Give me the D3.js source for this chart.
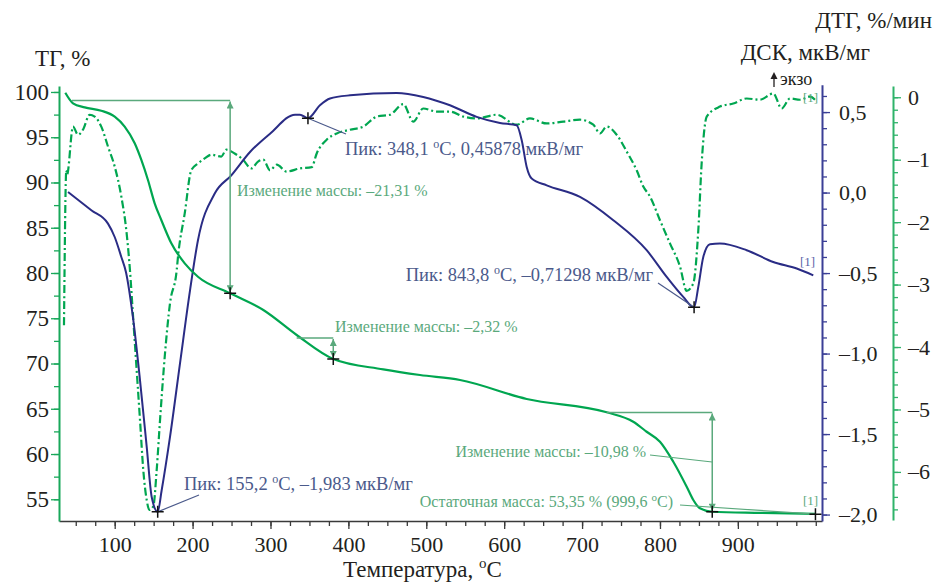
<!DOCTYPE html>
<html>
<head>
<meta charset="utf-8">
<script src="https://cdn.jsdelivr.net/npm/d3@7"></script>
<style>
  body { margin: 0; background: #fff; }
  svg { display: block; font-family: "Liberation Serif", "Times New Roman", serif; }
</style>
</head>
<body>
<svg id="chart" width="935" height="584"></svg>
<script>
/* ---- data (temperature °C, value) ---- */
var tgData = [
  [36.6, 99.92], [46.5, 98.75], [61.5, 98.3], [82.8, 97.93], [100, 97.27], [112.8, 96.17],
  [125.7, 94.33], [134.2, 92.49], [142.7, 90.28], [151.3, 87.7], [159.8, 85.86], [172.7, 83.28],
  [189.9, 81.07], [206.9, 79.59], [248.2, 77.76], [290.8, 75.91], [333.6, 73.15],
  [380.6, 70.5], [444.8, 69.36], [491.9, 68.73], [543.3, 68.18], [628.9, 66.08], [731.6, 64.61],
  [765.7, 63.57], [782.9, 62.46], [800, 61.36], [817.1, 59.15], [834.3, 56.39], [842.8, 54.92],
  [851.3, 54.0], [867.1, 53.62], [930, 53.5], [999.6, 53.38]
];

var dscData = [
  [40.1, 0.004], [70.0, -0.11], [91.4, -0.193], [100.0, -0.276], [108.5, -0.4], [114.5, -0.495],
  [123.9, -0.793], [132.5, -1.166], [141.1, -1.58], [147.5, -1.891], [155.2, -1.983], [160.3, -1.849],
  [171.0, -1.518], [183.8, -1.062], [196.7, -0.607], [206.9, -0.296], [228.4, -0.006], [249.7, 0.107],
  [273.7, 0.252], [299.4, 0.366], [331.5, 0.484], [337.9, 0.484], [348.1, 0.462], [363.5, 0.542],
  [376.4, 0.584], [402.1, 0.604], [462.0, 0.619], [496.1, 0.594], [530.4, 0.542], [564.7, 0.47],
  [594.6, 0.432], [616.0, 0.418], [622.5, 0.325], [628.9, 0.159], [635.3, 0.087], [654.6, 0.045],
  [697.3, -0.027], [740.1, -0.172], [782.9, -0.358], [808.6, -0.524], [829.9, -0.648], [843.8, -0.713],
  [849.2, -0.586], [855.6, -0.4], [864.2, -0.321], [877.0, -0.317], [911.3, -0.358], [945.4, -0.431],
  [975.5, -0.472], [996.8, -0.514]
];

var dtgData = [
  [34.9, -3.65], [37.9, -1.17], [38.8, -1.24], [46.5, -0.47], [52.9, -0.6], [59.3, -0.52],
  [67.9, -0.28], [74.3, -0.31], [82.8, -0.47], [91.4, -0.79], [100.0, -1.11], [108.5, -1.59],
  [114.9, -2.13], [119.6, -2.77], [123.9, -3.57], [128.2, -4.37], [132.5, -5.17], [136.7, -5.97],
  [141.1, -6.45], [144.4, -6.61], [149.6, -6.55], [153.9, -5.97], [158.2, -5.17], [164.6, -4.1],
  [171.0, -3.3], [179.6, -2.77], [181.3, -2.55], [189.9, -1.86], [198.3, -1.17], [206.9, -1.06],
  [215.5, -0.98], [224.0, -0.92], [236.8, -0.95], [243.3, -0.84], [254.0, -0.9], [264.7, -1.0],
  [275.4, -1.14], [284.0, -1.03], [290.8, -1.0], [299.4, -1.17], [308.0, -1.08], [320.8, -1.19],
  [337.9, -1.14], [352.9, -1.12], [359.3, -0.9], [372.1, -0.68], [385.0, -0.58], [402.1, -0.52],
  [419.1, -0.47], [436.3, -0.31], [453.4, -0.28], [470.5, -0.11], [483.3, -0.39], [496.1, -0.18],
  [513.4, -0.23], [530.4, -0.23], [547.5, -0.31], [564.7, -0.34], [590.4, -0.28], [616.0, -0.44],
  [633.1, -0.34], [654.6, -0.42], [675.9, -0.39], [697.3, -0.36], [714.4, -0.44], [723.0, -0.58],
  [731.6, -0.47], [744.4, -0.6], [757.3, -0.87], [770.1, -1.17], [778.6, -1.43], [787.2, -1.59],
  [800.0, -1.97], [812.8, -2.34], [825.7, -2.71], [834.3, -3.1], [842.8, -2.98], [849.2, -2.13],
  [853.5, -1.06], [860.0, -0.31], [877.0, -0.15], [894.1, -0.1], [911.3, -0.02], [928.4, -0.04],
  [945.4, 0.06], [956.2, -0.18], [966.9, -0.02], [979.7, -0.04], [992.5, 0.01], [1001.2, -0.07]
];

var xTickLabels = [100, 200, 300, 400, 500, 600, 700, 800, 900];
var tgTickLabels = [55, 60, 65, 70, 75, 80, 85, 90, 95, 100];
var dscTickLabels = [-2.0, -1.5, -1.0, -0.5, 0.0, 0.5];
var dtgTickLabels = [-6, -5, -4, -3, -2, -1, 0];

// mass-change steps: start temp of level line, arrow temp, upper / lower TG
var massSteps = [
  { t0: 45.2, t: 248.2, top: 99.07, bottom: 77.76, label: "Изменение массы: –21,31 %" },
  { t0: 333.6, t: 380.6, top: 72.82, bottom: 70.5, label: "Изменение массы: –2,32 %" },
  { t0: 731.6, t: 867.1, top: 64.6, bottom: 53.62, label: "Изменение массы: –10,98 %" }
];
var tgMarks = [[248.2, 77.76], [380.6, 70.5], [867.1, 53.62], [999.6, 53.35]];
var dscPeaks = [
  { t: 155.2, v: -1.983, temp: "155,2", val: "–1,983" },
  { t: 348.1, v: 0.462, temp: "348,1", val: "0,45878" },
  { t: 843.8, v: -0.713, temp: "843,8", val: "–0,71298" }
];

/* ---- colours ---- */
var cTG = "#00a650", cDTG = "#00a650", cDSC = "#2a2c85";
var cNote = "#5aa97c", cPeak = "#4b5a8b", cText = "#231f20";
var serif = "Liberation Serif, Times New Roman, serif";

var svg = d3.select("#chart");

/* ---- scales ---- */
var x = d3.scaleLinear().domain([28.5, 1008]).range([59, 822]);
var yTG = d3.scaleLinear().domain([52.6, 100.66]).range([521, 86]);
var yDSC = d3.scaleLinear().domain([-2.04, 0.67]).range([521, 84.7]);
var yDTG = d3.scaleLinear().domain([-6.77, 0.18]).range([520, 86]);

function fmtComma(d, digits) {
  var s = Math.abs(d).toFixed(digits).replace(".", ",");
  return (d < -1e-9 ? "–" : "") + s;
}

// text with a raised small "o" before "С" (degree sign as in the original)
function degText(t, before, after, supSize, rise) {
  t.append("tspan").text(before);
  t.append("tspan").attr("dy", -rise).attr("font-size", supSize).text("o");
  t.append("tspan").attr("dy", rise).text(after);
  return t;
}

/* ---- axes ---- */
function drawAxis(axisFn, scale, color, major, minor, fmt, fontSize, pad, transform) {
  var g = svg.append("g").attr("transform", transform);
  g.append("g")
    .call(axisFn(scale).tickValues(minor).tickSize(5).tickSizeOuter(0).tickFormat(""))
    .call(function (s) { s.select(".domain").remove(); })
    .selectAll("line").attr("stroke", color).attr("stroke-width", 1.3);
  var a = g.append("g")
    .call(axisFn(scale).tickValues(major).tickSize(8).tickSizeOuter(0).tickPadding(pad).tickFormat(fmt));
  a.attr("font-family", serif);
  a.select(".domain").attr("stroke", color).attr("stroke-width", 2);
  a.selectAll("line").attr("stroke", color).attr("stroke-width", 1.3);
  a.selectAll("text").attr("fill", cText).attr("font-size", fontSize).attr("font-family", serif);
  return a;
}

var xMinor = d3.range(50, 1001, 25);
var bottomAxis = drawAxis(d3.axisBottom, x, "#3a3a3a", xTickLabels, xMinor,
  d3.format("d"), 22, 7, "translate(0,521)");
bottomAxis.select(".domain").attr("stroke-width", 1.5);

drawAxis(d3.axisLeft, yTG, "#18a85a", tgTickLabels, d3.range(55, 100.1, 2.5),
  d3.format("d"), 23, 2, "translate(59,0)");

drawAxis(d3.axisRight, yDSC, "#3b3f96", dscTickLabels,
  d3.range(-20, 7).map(function (i) { return i / 10; }),
  function (d) { return fmtComma(d, 1); }, 22, 9, "translate(822,0)");

drawAxis(d3.axisRight, yDTG, "#2fb36a", dtgTickLabels,
  d3.range(-33, 1).map(function (i) { return i / 5; }),
  function (d) { return fmtComma(d, 0); }, 22, 7, "translate(893,0)");

/* ---- axis titles ---- */
function title(txt, xx, yy, anchor, size) {
  return svg.append("text").attr("x", xx).attr("y", yy).attr("text-anchor", anchor || "start")
    .attr("font-family", serif).attr("font-size", size || 23).attr("fill", cText).text(txt);
}
title("ТГ, %", 35, 66);
title("ДТГ, %/мин", 932, 28, "end");
title("ДСК, мкВ/мг", 870, 60, "end");

var xt = svg.append("text").attr("x", 343).attr("y", 577).attr("font-family", serif)
  .attr("font-size", 23).attr("fill", cText);
degText(xt, "Температура, ", "С", 15, 9);

// exo arrow
svg.append("line").attr("x1", 774).attr("x2", 774).attr("y1", 87).attr("y2", 78)
  .attr("stroke", cText).attr("stroke-width", 1.3);
svg.append("path").attr("d", "M770.5,79 L774,72 L777.5,79 Z").attr("fill", cText);
title("экзо", 780, 85, "start", 18);

/* ---- markers ---- */
var defs = svg.append("defs");
defs.append("marker").attr("id", "arr").attr("viewBox", "0 0 10 10")
  .attr("refX", 10).attr("refY", 5).attr("markerWidth", 9).attr("markerHeight", 7)
  .attr("markerUnits", "userSpaceOnUse").attr("orient", "auto-start-reverse")
  .append("path").attr("d", "M0,0 L10,5 L0,10 Z").attr("fill", cNote);

/* ---- curves ---- */
var lineTG = d3.line().x(function (d) { return x(d[0]); }).y(function (d) { return yTG(d[1]); })
  .curve(d3.curveMonotoneX);
var lineDSC = d3.line().x(function (d) { return x(d[0]); }).y(function (d) { return yDSC(d[1]); })
  .curve(d3.curveMonotoneX);
var lineDTG = d3.line().x(function (d) { return x(d[0]); }).y(function (d) { return yDTG(d[1]); })
  .curve(d3.curveMonotoneX);

svg.append("path").datum(dtgData).attr("d", lineDTG).attr("fill", "none")
  .attr("stroke", cDTG).attr("stroke-width", 2.2).attr("stroke-dasharray", "8,3,2,3");
svg.append("path").datum(dscData).attr("d", lineDSC).attr("fill", "none")
  .attr("stroke", cDSC).attr("stroke-width", 2);
svg.append("path").datum(tgData).attr("d", lineTG).attr("fill", "none")
  .attr("stroke", cTG).attr("stroke-width", 2.2);

/* ---- mass step annotations ---- */
massSteps.forEach(function (s) {
  svg.append("line").attr("x1", x(s.t0)).attr("x2", x(s.t))
    .attr("y1", yTG(s.top)).attr("y2", yTG(s.top))
    .attr("stroke", cNote).attr("stroke-width", 1.5);
  svg.append("line").attr("x1", x(s.t)).attr("x2", x(s.t))
    .attr("y1", yTG(s.top) + 1).attr("y2", yTG(s.bottom) - 1)
    .attr("stroke", cNote).attr("stroke-width", 1.5)
    .attr("marker-start", "url(#arr)").attr("marker-end", "url(#arr)");
});

function note(txt, xx, yy, anchor) {
  return svg.append("text").attr("x", xx).attr("y", yy).attr("text-anchor", anchor || "start")
    .attr("font-family", serif).attr("font-size", 16).attr("fill", cNote).text(txt);
}
note(massSteps[0].label, 237, 196);
note(massSteps[1].label, 335, 332);
note(massSteps[2].label, 646, 457, "end");
svg.append("line").attr("x1", 650).attr("y1", 455).attr("x2", x(massSteps[2].t)).attr("y2", 462)
  .attr("stroke", cNote).attr("stroke-width", 1.2);

var rt = svg.append("text").attr("x", 673).attr("y", 507).attr("text-anchor", "end")
  .attr("font-family", serif).attr("font-size", 16).attr("fill", cNote);
degText(rt, "Остаточная масса: 53,35 % (999,6 ", "С)", 11, 6);
svg.append("line").attr("x1", 680).attr("y1", 505).attr("x2", x(999.6)).attr("y2", yTG(53.35))
  .attr("stroke", cNote).attr("stroke-width", 1.2);

/* ---- peak annotations ---- */
var peakText = [
  { x: 184, y: 490, anchor: "start", lx: 199, ly: 495 },
  { x: 345, y: 155, anchor: "start", lx: 346, ly: 134 },
  { x: 653, y: 281, anchor: "end", lx: 658, ly: 283 }
];
dscPeaks.forEach(function (p, i) {
  var pt = peakText[i];
  svg.append("line").attr("x1", x(p.t)).attr("y1", yDSC(p.v)).attr("x2", pt.lx).attr("y2", pt.ly)
    .attr("stroke", cPeak).attr("stroke-width", 1.2);
  var t = svg.append("text").attr("x", pt.x).attr("y", pt.y).attr("text-anchor", pt.anchor)
    .attr("font-family", serif).attr("font-size", 18.5).attr("fill", cPeak);
  degText(t, "Пик: " + p.temp + " ", "С, " + p.val + " мкВ/мг", 12, 7);
});

/* ---- crosses ---- */
function cross(cx, cy) {
  svg.append("path").attr("d", "M" + (cx - 6) + "," + cy + "H" + (cx + 6) + "M" + cx + "," + (cy - 6) + "V" + (cy + 6))
    .attr("stroke", "#111").attr("stroke-width", 1.5);
}
dscPeaks.forEach(function (p) { cross(x(p.t), yDSC(p.v)); });
tgMarks.forEach(function (m) { cross(x(m[0]), yTG(m[1])); });

/* ---- [1] tags ---- */
function tag(xx, yy, color) {
  svg.append("text").attr("x", xx).attr("y", yy).attr("font-family", serif)
    .attr("font-size", 13).attr("fill", color).text("[1]");
}
tag(803, 102, cNote);
tag(800, 266, "#5a63a8");
tag(803, 505, cNote);
</script>
</body>
</html>
